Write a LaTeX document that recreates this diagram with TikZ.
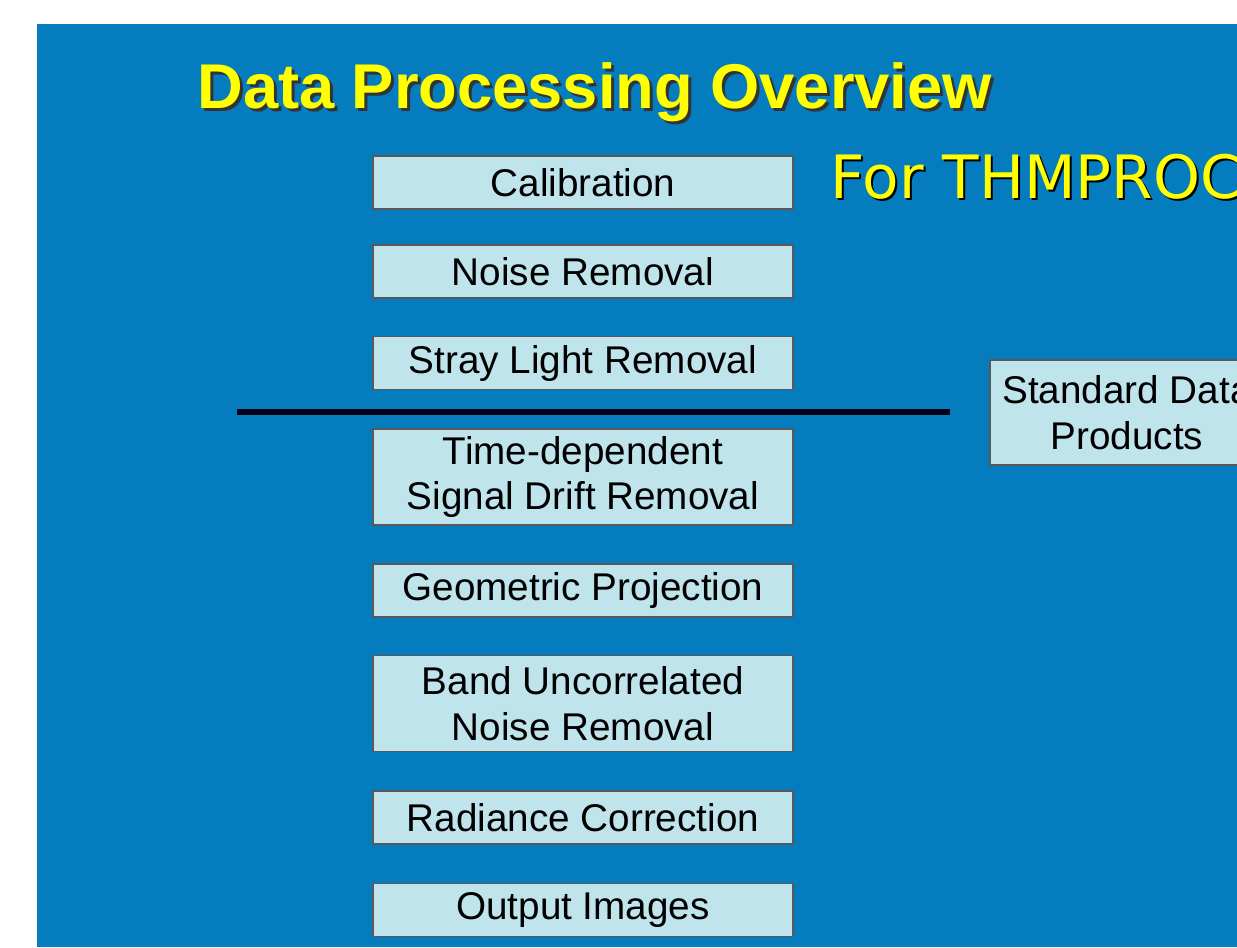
\documentclass[tikz,border=0pt]{standalone}
\usepackage{fontspec}
\setmainfont{Liberation Sans}
\newfontfamily\bannerfont{DejaVu Sans}
\usetikzlibrary{positioning}

\definecolor{slideblue}{RGB}{4,124,190}
\definecolor{boxcyan}{RGB}{192,228,236}
\definecolor{titleyellow}{RGB}{255,255,0}

\begin{document}
\begin{tikzpicture}[x=0.02cm, y=-0.02cm]

  % Styles for the processing steps
  \tikzset{
    stepbox/.style={
      draw=black!65, fill=boxcyan, line width=0.6pt,
      minimum width=420*0.02cm, minimum height=53*0.02cm,
      inner sep=0pt, align=center,
      font=\fontsize{22}{26}\selectfont
    },
    tallbox/.style={stepbox, minimum height=96*0.02cm},
    titletext/.style={anchor=base west, inner sep=0pt,
      font=\fontsize{36}{40}\selectfont\bfseries},
    bannertext/.style={anchor=base west, inner sep=0pt,
      font=\bannerfont\fontsize{34}{38}\selectfont}
  }

  % Page and slide background
  \useasboundingbox (0,0) rectangle (1237,947);
  \clip (0,0) rectangle (1237,947);
  \fill[white] (0,0) rectangle (1237,947);
  \fill[slideblue] (37,24) rectangle (1237,947);

  % Titles with shadows
  \node[titletext, text=black!80] (title shadow) at (200,111) {Data Processing Overview};
  \node[titletext, text=titleyellow] (title) at (197,108) {Data Processing Overview};
  \node[bannertext, text=black] (banner shadow) at (832,200) {For THMPROC};
  \node[bannertext, text=titleyellow] (banner) at (830,198) {For THMPROC};

  % Processing steps
  \node[stepbox] (calib) at (583,182.5) {Calibration};
  \node[stepbox] (noise) at (583,271.5) {Noise Removal};
  \node[stepbox] (stray) at (583,363) {Stray Light Removal};
  \node[tallbox] (drift) at (583,477) {Time-dependent\\Signal Drift Removal};
  \node[stepbox] (geom) at (583,590.5) {Geometric Projection};
  \node[tallbox] (band) at (583,703.5) {Band Uncorrelated\\Noise Removal};
  \node[stepbox] (radiance) at (583,817.5) {Radiance Correction};
  \node[stepbox] (output) at (583,910) {Output Images};

  % Standard products box, cut by the slide edge
  \node[stepbox, minimum width=274*0.02cm, minimum height=105*0.02cm] (standard) at (1127,412.5) {Standard Data\\Products};

  % Divider
  \coordinate (div west) at (237,412);
  \coordinate (div east) at (950,412);
  \draw[line width=3.4pt, black!90!blue] (div west) -- (div east);

\end{tikzpicture}
\end{document}
